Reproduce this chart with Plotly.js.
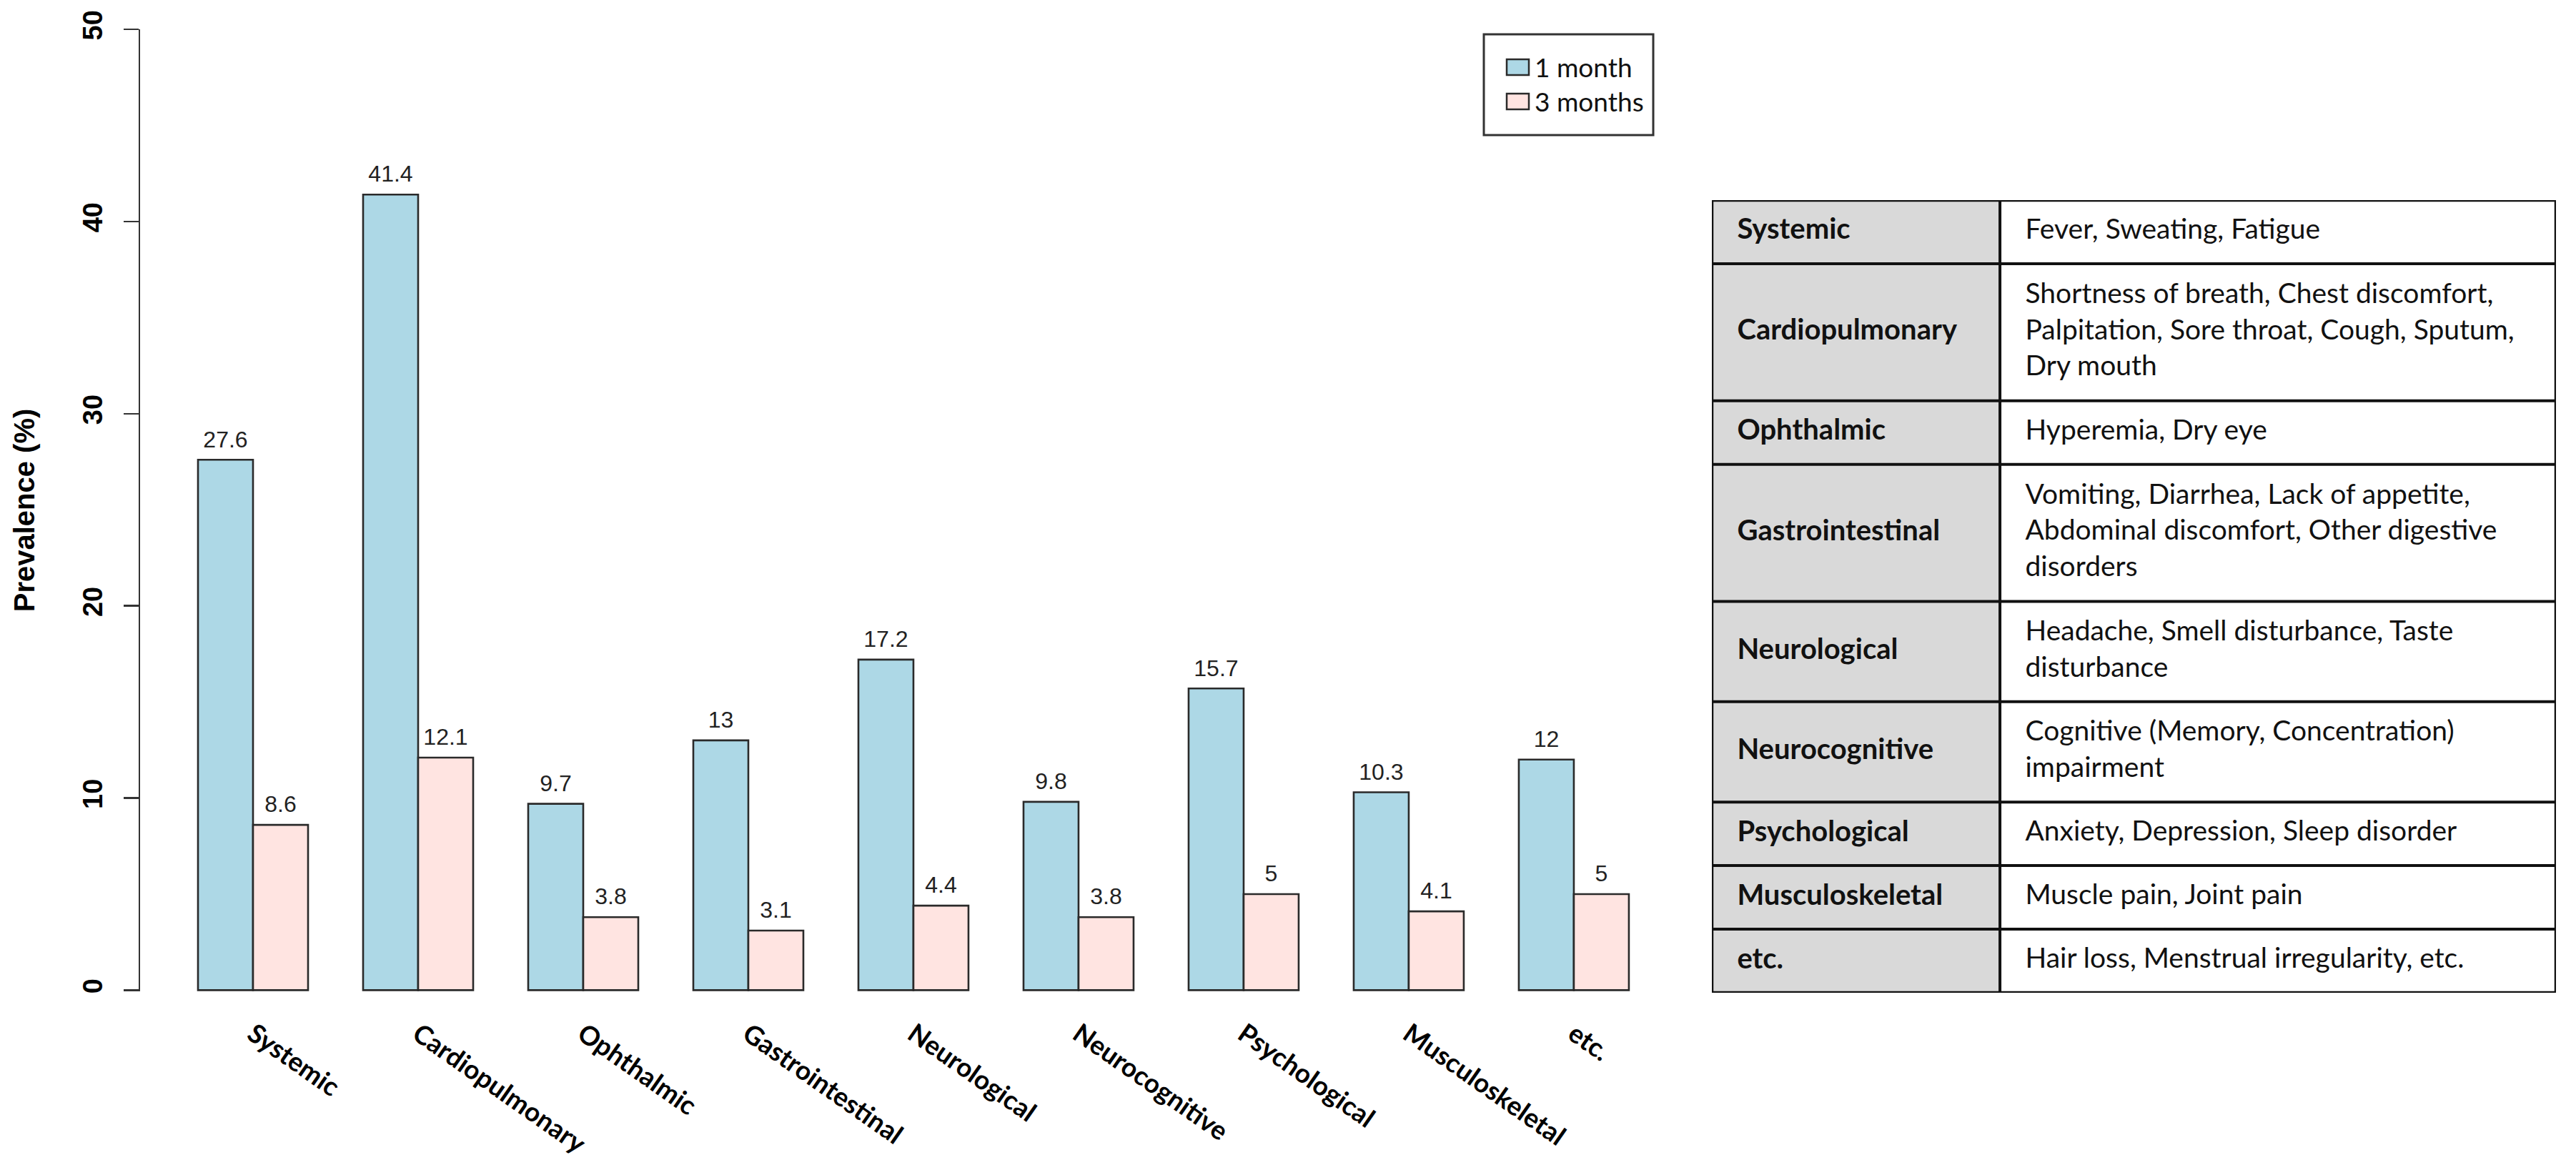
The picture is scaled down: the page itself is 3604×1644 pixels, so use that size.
<!DOCTYPE html>
<html>
<head>
<meta charset="utf-8">
<script src="https://cdn.plot.ly/plotly-3.0.1.min.js"></script>
<style>html,body{margin:0;padding:0;background:#fff;}</style>
</head>
<body>
<div id="chart" style="width:3604px;height:1644px;"></div>
<script>
// ---------- data ----------
const categories = ['Systemic', 'Cardiopulmonary', 'Ophthalmic', 'Gastrointestinal', 'Neurological',
  'Neurocognitive', 'Psychological', 'Musculoskeletal', 'etc.'];
const oneMonth = [27.6, 41.4, 9.7, 13, 17.2, 9.8, 15.7, 10.3, 12];
const threeMonths = [8.6, 12.1, 3.8, 3.1, 4.4, 3.8, 5, 4.1, 5];
const seriesNames = ['1 month', '3 months'];
const yTicks = [0, 10, 20, 30, 40, 50];
const tableSymptoms = [
  'Fever, Sweating, Fatigue',
  'Shortness of breath, Chest discomfort,<br>Palpitation, Sore throat, Cough, Sputum,<br>Dry mouth',
  'Hyperemia, Dry eye',
  'Vomiting, Diarrhea, Lack of appetite,<br>Abdominal discomfort, Other digestive<br>disorders',
  'Headache, Smell disturbance, Taste<br>disturbance',
  'Cognitive (Memory, Concentration)<br>impairment',
  'Anxiety, Depression, Sleep disorder',
  'Muscle pain, Joint pain',
  'Hair loss, Menstrual irregularity, etc.'
];

// ---------- layout constants ----------
const W = 3604, H = 1644;
const BARGAP = 1 / 3;
const COL_SPLIT = 0.3413;   // fraction of table width for first column
const CELL_PAD = 0.03;
const ROW_BASE = 0.73;      // extra height per row (in line units)
const colors = ['#ADD8E6', '#FFE4E1'];
const px = v => v / W, py = v => (H - v) / H;   // pixel -> paper helpers for layout decoration

const xIdx = categories.map((c, i) => i);
const halfBar = (1 - BARGAP) / 4;   // centre offset of each bar inside its group

// table row geometry in "line units"
const rowHeights = tableSymptoms.map(s => s.split('<br>').length + ROW_BASE);
const rowTops = [];
let acc = 0;
rowHeights.forEach(h => { rowTops.push(acc); acc += h; });
const tableTotal = acc;
const rowCenters = rowTops.map((t, i) => t + rowHeights[i] / 2);

const barLine = {color: '#2a2a2a', width: 2.6};
const valueFont = {family: 'Liberation Sans, Arial, sans-serif', size: 32, color: '#222'};

function valueLabels(vals, sign) {
  return {
    type: 'scatter', mode: 'markers+text', showlegend: false, hoverinfo: 'skip',
    x: xIdx.map(i => i + sign * halfBar), y: vals,
    text: vals.map(String), textposition: 'top center', textfont: valueFont,
    marker: {size: 14, color: 'rgba(0,0,0,0)'}, cliponaxis: false
  };
}

const traces = [
  {
    type: 'bar', name: seriesNames[0], x: xIdx, y: oneMonth,
    marker: {color: colors[0], line: barLine}, hovertemplate: '%{y}<extra>' + seriesNames[0] + '</extra>'
  },
  {
    type: 'bar', name: seriesNames[1], x: xIdx, y: threeMonths,
    marker: {color: colors[1], line: barLine}, hovertemplate: '%{y}<extra>' + seriesNames[1] + '</extra>'
  },
  valueLabels(oneMonth, -1),
  valueLabels(threeMonths, 1),
  {
    type: 'scatter', mode: 'text', xaxis: 'x2', yaxis: 'y2', showlegend: false, hoverinfo: 'skip',
    x: categories.map(() => CELL_PAD), y: rowCenters, text: categories,
    textposition: 'middle right',
    textfont: {family: 'Lato, sans-serif', size: 40, color: '#111', weight: 'bold'},
    cliponaxis: false
  },
  {
    type: 'scatter', mode: 'text', xaxis: 'x2', yaxis: 'y2', showlegend: false, hoverinfo: 'skip',
    x: tableSymptoms.map(() => COL_SPLIT + CELL_PAD), y: rowCenters, text: tableSymptoms,
    textposition: 'middle right',
    textfont: {family: 'Lato, sans-serif', size: 39, color: '#111'},
    cliponaxis: false
  }
];

// table shapes
const shapes = [];
rowTops.forEach((t, i) => {
  shapes.push({type: 'rect', xref: 'x2', yref: 'y2', x0: 0, x1: COL_SPLIT, y0: t, y1: t + rowHeights[i],
    fillcolor: '#d9d9d9', line: {width: 0}, layer: 'below'});
});
[...rowTops, tableTotal].forEach((yb, i, arr) => {
  const outer = (i === 0 || i === arr.length - 1);
  shapes.push({type: 'line', xref: 'x2', yref: 'y2', x0: 0, x1: 1, y0: yb, y1: yb,
    line: {color: '#111', width: outer ? 4.5 : 4}});
});
[0, COL_SPLIT, 1].forEach((xb, i) => {
  shapes.push({type: 'line', xref: 'x2', yref: 'y2', x0: xb, x1: xb, y0: 0, y1: tableTotal,
    line: {color: '#111', width: i === 1 ? 4 : 4.5}});
});

// legend box (R-style legend: large swatches and padding)
const annotations = [];
shapes.push({type: 'rect', xref: 'paper', yref: 'paper', x0: px(2076), x1: px(2313), y0: py(48), y1: py(189),
  fillcolor: '#fff', line: {color: '#333', width: 3}});
const legendRows = [94, 142];
seriesNames.forEach((name, i) => {
  const yc = legendRows[i];
  shapes.push({type: 'rect', xref: 'paper', yref: 'paper', x0: px(2108), x1: px(2139), y0: py(yc - 11), y1: py(yc + 11),
    fillcolor: colors[i], line: {color: '#2a2a2a', width: 2.5}});
  annotations.push({xref: 'paper', yref: 'paper', x: px(2145), y: py(yc), xanchor: 'left', yanchor: 'middle',
    text: name, showarrow: false, font: {family: 'Lato, sans-serif', size: 37, color: '#111'}});
});

const layout = {
  width: W, height: H,
  margin: {l: 0, r: 0, t: 0, b: 0},
  paper_bgcolor: '#fff', plot_bgcolor: '#fff',
  barmode: 'group', bargap: BARGAP, bargroupgap: 0,
  showlegend: false,
  xaxis: {
    domain: [196 / W, 2356 / W], range: [-0.684, 8.667],
    tickvals: xIdx, ticktext: categories,
    showline: false, ticks: '', showgrid: false, zeroline: false,
    tickangle: 35, ticklabelstandoff: 30,
    tickfont: {family: 'Lato, sans-serif', size: 37, color: '#000', weight: 'bold'}
  },
  yaxis: {
    domain: [(H - 1387) / H, (H - 41) / H], range: [-0.06, 50],
    tickvals: yTicks, ticktext: yTicks.map(String),
    ticks: 'outside', ticklen: 21, tickwidth: 2.5, tickcolor: '#333',
    showline: true, linecolor: '#333', linewidth: 2.5,
    showgrid: false, zeroline: false, tickangle: -90, ticklabelstandoff: 14,
    tickfont: {family: 'Liberation Sans, Arial, sans-serif', size: 38, color: '#000', weight: 'bold'},
    title: {text: 'Prevalence (%)', standoff: 49,
      font: {family: 'Liberation Sans, Arial, sans-serif', size: 40, color: '#000', weight: 'bold'}}
  },
  xaxis2: {domain: [2395 / W, 3576 / W], range: [0, 1], visible: false, anchor: 'y2', fixedrange: true},
  yaxis2: {domain: [(H - 1389) / H, (H - 280) / H], range: [tableTotal, 0], visible: false, anchor: 'x2', fixedrange: true},
  shapes: shapes,
  annotations: annotations
};

Plotly.newPlot('chart', traces, layout, {displayModeBar: false, staticPlot: true});
</script>
</body>
</html>
